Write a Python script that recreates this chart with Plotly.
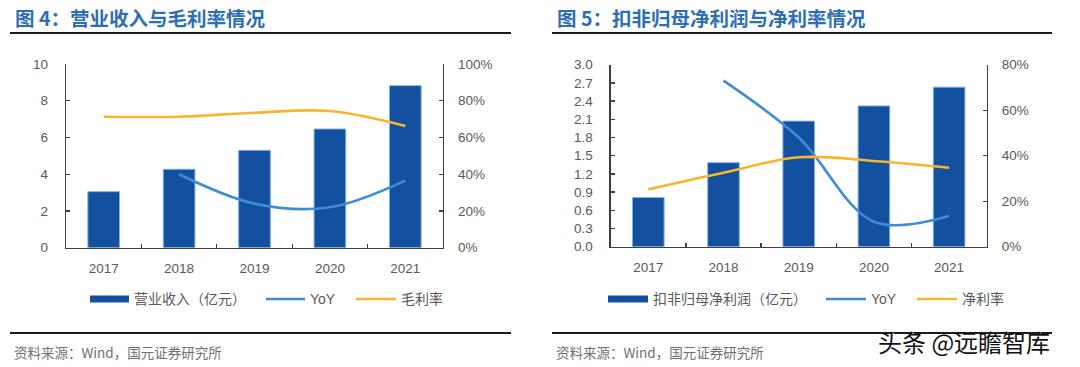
import plotly.graph_objects as go

W, H = 1080, 367

years = ["2017", "2018", "2019", "2020", "2021"]

# Left chart: revenue (亿元), YoY, gross margin
revenue = [3.05, 4.27, 5.30, 6.46, 8.82]
revenue_yoy = [None, 0.40, 0.24, 0.22, 0.365]
gross_margin = [0.713, 0.713, 0.735, 0.744, 0.663]

# Right chart: net profit excl. non-recurring (亿元), YoY, net margin
net_profit = [0.81, 1.385, 2.07, 2.32, 2.63]
profit_yoy = [None, 0.73, 0.48, 0.11, 0.135]
net_margin = [0.252, 0.325, 0.393, 0.377, 0.347]

BAR = "#1450A0"
BAR_EDGE = "#7FAEE3"
YOY = "#3E8CD6"
GOLD = "#F8B62C"
TICK = "#595959"
AXIS = "#404040"
TITLE = "#2E6EB5"
FONT = "Liberation Sans, Arial, Noto Sans CJK SC"
CJK = "Noto Sans CJK SC"


def px(x):
    return x / W


def py(y):
    return 1 - y / H


fig = go.Figure()

# Left chart traces
fig.add_trace(go.Bar(x=years, y=revenue, marker=dict(color=BAR, line=dict(color=BAR_EDGE, width=1)),
                     xaxis="x", yaxis="y", showlegend=False))
fig.add_trace(go.Scatter(x=years, y=revenue_yoy, mode="lines", line=dict(color=YOY, width=2.6, shape="spline", smoothing=1),
                         xaxis="x", yaxis="y2", showlegend=False))
fig.add_trace(go.Scatter(x=years, y=gross_margin, mode="lines", line=dict(color=GOLD, width=2.6, shape="spline", smoothing=1),
                         xaxis="x", yaxis="y2", showlegend=False))

# Right chart traces
fig.add_trace(go.Bar(x=years, y=net_profit, marker=dict(color=BAR, line=dict(color=BAR_EDGE, width=1)),
                     xaxis="x2", yaxis="y3", showlegend=False))
fig.add_trace(go.Scatter(x=years, y=profit_yoy, mode="lines", line=dict(color=YOY, width=2.6, shape="spline", smoothing=1),
                         xaxis="x2", yaxis="y4", showlegend=False))
fig.add_trace(go.Scatter(x=years, y=net_margin, mode="lines", line=dict(color=GOLD, width=2.6, shape="spline", smoothing=1),
                         xaxis="x2", yaxis="y4", showlegend=False))

common_axis = dict(showline=True, linecolor=AXIS, linewidth=1.3, ticks="inside", ticklen=4, tickcolor=AXIS,
                   tickwidth=1.3, showgrid=False, zeroline=False, automargin=False,
                   tickfont=dict(family=FONT, size=13.5, color=TICK))

L_dom_y = [py(247.7), py(64)]
R_dom_y = [py(246.7), py(64.7)]

fig.update_layout(
    template="none",
    width=W, height=H, autosize=False,
    margin=dict(l=0, r=0, t=0, b=0, pad=0, autoexpand=False),
    paper_bgcolor="white", plot_bgcolor="white",
    showlegend=False,
    hovermode=False,
    bargap=0.58,
    xaxis=dict(domain=[px(66), px(443)], anchor="y", type="category", tickson="boundaries",
               ticklabelstandoff=8, **common_axis),
    yaxis=dict(domain=L_dom_y, anchor="x", range=[0, 10], dtick=2, ticklabelstandoff=14, **common_axis),
    yaxis2=dict(domain=L_dom_y, anchor="x", overlaying="y", side="right", range=[0, 1], dtick=0.2,
                tickformat=".0%", ticklabelstandoff=11, **common_axis),
    xaxis2=dict(domain=[px(610.7), px(986.7)], anchor="y3", type="category", tickson="boundaries",
                ticklabelstandoff=8, **common_axis),
    yaxis3=dict(domain=R_dom_y, anchor="x2", range=[0, 3], dtick=0.3, tickformat=".1f",
                ticklabelstandoff=14, **common_axis),
    yaxis4=dict(domain=R_dom_y, anchor="x2", overlaying="y3", side="right", range=[0, 0.8], dtick=0.2,
                tickformat=".0%", ticklabelstandoff=11, **common_axis),
)

shapes = []
annotations = []

# Titles and rules
for x0, x1, title in [(10, 511, "图 4：营业收入与毛利率情况"), (552, 1052, "图 5：扣非归母净利润与净利率情况")]:
    annotations.append(dict(x=px(x0 + 3), y=py(17), xref="paper", yref="paper", xanchor="left", yanchor="middle",
                            text="<b>" + title + "</b>", showarrow=False,
                            font=dict(family=CJK, size=19.5, color=TITLE)))
    shapes.append(dict(type="line", xref="paper", yref="paper", x0=px(x0), x1=px(x1), y0=py(33), y1=py(33),
                       line=dict(color="#1a1a1a", width=2.2)))
    shapes.append(dict(type="line", xref="paper", yref="paper", x0=px(x0), x1=px(x1), y0=py(333), y1=py(333),
                       line=dict(color="#1a1a1a", width=2)))
    annotations.append(dict(x=px(x0 + 2), y=py(352), xref="paper", yref="paper", xanchor="left", yanchor="middle",
                            text="资料来源：Wind，国元证券研究所", showarrow=False,
                            font=dict(family=CJK, size=13.5, color="#707070")))


# Legends
def legend_items(items):
    for kind, x0, x1, color, label in items:
        if kind == "bar":
            shapes.append(dict(type="rect", xref="paper", yref="paper", x0=px(x0), x1=px(x1), y0=py(302.5), y1=py(295.5),
                               fillcolor=color, line=dict(width=0)))
        else:
            shapes.append(dict(type="line", xref="paper", yref="paper", x0=px(x0), x1=px(x1), y0=py(299), y1=py(299),
                               line=dict(color=color, width=2.6)))
        annotations.append(dict(x=px(x1 + 3), y=py(299), xref="paper", yref="paper", xanchor="left", yanchor="middle",
                                text=label, showarrow=False,
                                font=dict(family="Liberation Sans, Noto Sans CJK SC", size=14, color=TICK)))


legend_items([("bar", 90, 129, BAR, "营业收入（亿元）"),
              ("line", 266, 305, YOY, "YoY"),
              ("line", 356, 396, GOLD, "毛利率")])
legend_items([("bar", 608, 648, BAR, "扣非归母净利润（亿元）"),
              ("line", 826, 866, YOY, "YoY"),
              ("line", 917, 957, GOLD, "净利率")])

# Watermark
annotations.append(dict(x=px(1052), y=py(341), xref="paper", yref="paper", xanchor="right", yanchor="middle",
                        text="头条 @远瞻智库", showarrow=False,
                        font=dict(family=CJK, size=24, color="#111111", shadow="1px 1px 1px white")))

fig.update_layout(shapes=shapes, annotations=annotations)

fig.write_html("out.html",
               config={"displayModeBar": False, "staticPlot": True},
               post_script="document.body.style.margin='0';document.body.style.padding='0';"
                           "document.documentElement.style.overflow='hidden';")
